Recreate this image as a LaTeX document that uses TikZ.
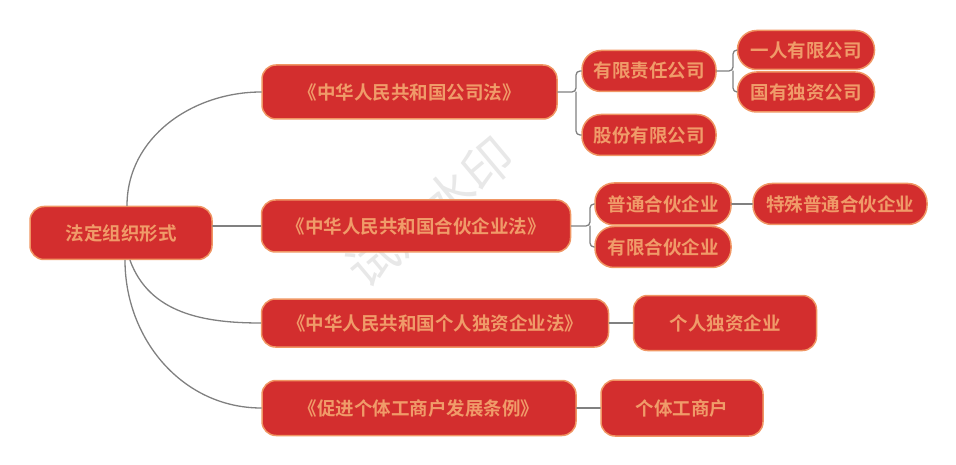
\documentclass[tikz,border=0pt]{standalone}
\usepackage{fontspec}
\newfontfamily\cjk{Noto Sans CJK SC}[BoldFont={Noto Sans CJK SC Bold}]
\definecolor{boxred}{RGB}{211,46,46}
\definecolor{boxedge}{RGB}{240,150,100}
\definecolor{boxtxt}{RGB}{240,155,105}
\definecolor{linkgray}{RGB}{128,128,128}
\tikzset{
  box/.style={draw=boxedge, fill=boxred, line width=1.5pt, text=boxtxt,
    font=\cjk\bfseries\fontsize{18.5}{20}\selectfont, inner sep=0pt, rounded corners=14pt},
  pill/.style={box, rounded corners=19pt},
  link/.style={draw=linkgray, line width=1.3pt},
  elbow/.style={link, rounded corners=4pt},
}
\begin{document}
\begin{tikzpicture}[x=1pt, y=-1pt, line join=round, line cap=round]
	\useasboundingbox (0,0) rectangle (956,465);
	% watermark
	\node[rotate=40, text=gray!18, font=\cjk\fontsize{50}{50}\selectfont] (wm) at (430,212) {试用水印};
	% root and laws
	\node[box, minimum width=182, minimum height=53] (root) at (121,233) {法定组织形式};
	\node[box, minimum width=295, minimum height=54] (gs) at (409.5,92) {《中华人民共和国公司法》};
	\node[box, minimum width=309, minimum height=52] (hh) at (416,226) {《中华人民共和国合伙企业法》};
	\node[box, minimum width=347, minimum height=48] (dz) at (435,323) {《中华人民共和国个人独资企业法》};
	\node[box, minimum width=314, minimum height=55] (gt) at (419,408) {《促进个体工商户发展条例》};
	% forms
	\node[pill, minimum width=134, minimum height=41] (yx) at (649,71) {有限责任公司};
	\node[pill, minimum width=134, minimum height=41] (gf) at (649,135) {股份有限公司};
	\node[pill, minimum width=137, minimum height=39] (yr) at (806,50) {一人有限公司};
	\node[pill, minimum width=137, minimum height=40] (gy) at (806,92) {国有独资公司};
	\node[pill, minimum width=136, minimum height=42] (pt) at (663,204) {普通合伙企业};
	\node[pill, minimum width=136, minimum height=41] (yh) at (663,247) {有限合伙企业};
	\node[pill, minimum width=174, minimum height=41] (ts) at (840,204) {特殊普通合伙企业};
	\node[box, minimum width=183, minimum height=55] (grdz) at (725,323) {个人独资企业};
	\node[box, minimum width=162, minimum height=56] (gtgs) at (682,408) {个体工商户};
	% root links
	\draw[link] ([xshift=6pt]root.north) to[out=90, in=180] (gs.west);
	\draw[link] (root.east |- hh.west) -- (hh.west);
	\draw[link] ([xshift=9pt]root.south) to[out=-70, in=180] (dz.west);
	\draw[link] ([xshift=4pt]root.south) to[out=-90, in=180] (gt.west);
	% branches
	\coordinate (b1) at (576,92);
	\coordinate (b2) at (733,71);
	\coordinate (b3) at (590,226);
	\draw[elbow] (gs.east) -- (b1) |- (yx.west);
	\draw[elbow] (b1) |- (gf.west);
	\draw[elbow] (yx.east) -- (b2) |- (yr.west);
	\draw[elbow] (b2) |- (gy.west);
	\draw[elbow] (hh.east) -- (b3) |- (pt.west);
	\draw[elbow] (b3) |- (yh.west);
	\draw[link] (pt.east) -- (ts.west);
	\draw[link] (dz.east) -- (grdz.west);
	\draw[link] (gt.east) -- (gtgs.west);
\end{tikzpicture}
\end{document}
